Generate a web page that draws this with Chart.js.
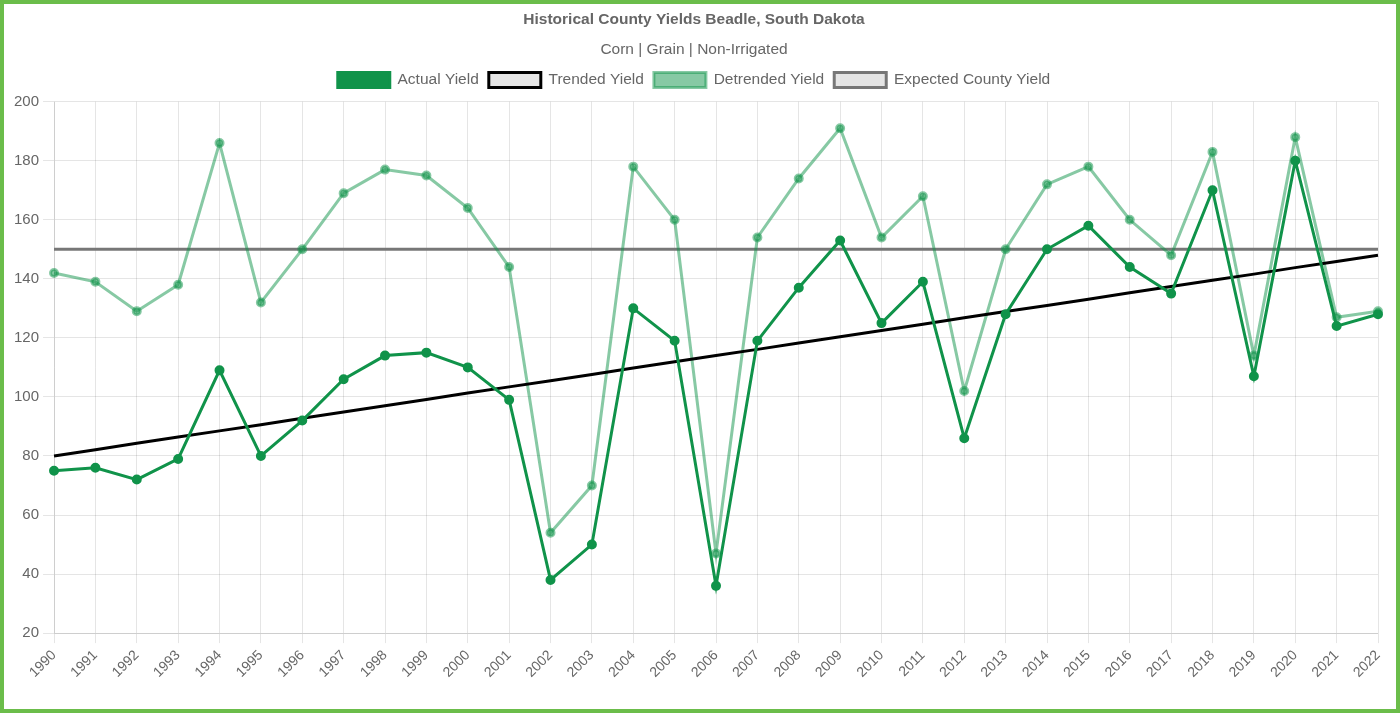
<!DOCTYPE html>
<html>
<head>
<meta charset="utf-8">
<title>Historical County Yields Beadle, South Dakota</title>
<script src="https://cdn.jsdelivr.net/npm/chart.js@4/dist/chart.umd.min.js"></script>
<style>
    html, body { margin: 0; padding: 0; background: #fff; }
    #frame {
        width: 1400px;
        height: 713px;
        box-sizing: border-box;
        border: 4px solid #6bbd4a;
        position: relative;
    }
    #chartYields { display: block; }
</style>
</head>
<body>
<div id="frame">
    <canvas id="chartYields" width="1392" height="705"></canvas>
</div>
<script>
// Anos
const years = ['1990', '1991', '1992', '1993', '1994', '1995', '1996', '1997', '1998', '1999',
    '2000', '2001', '2002', '2003', '2004', '2005', '2006', '2007', '2008', '2009',
    '2010', '2011', '2012', '2013', '2014', '2015', '2016', '2017', '2018', '2019',
    '2020', '2021', '2022'];

const actualYield = [75, 76, 72, 79, 109, 80, 92, 106, 114, 115,
    110, 99, 38, 50, 130, 119, 36, 119, 137, 153,
    125, 139, 86, 128, 150, 158, 144, 135, 170, 107,
    180, 124, 128];

const trendedYield = [80.0, 82.1, 84.3, 86.4, 88.5, 90.6, 92.8, 94.9, 97.0, 99.1,
    101.3, 103.4, 105.5, 107.6, 109.8, 111.9, 114.0, 116.1, 118.3, 120.4,
    122.5, 124.6, 126.8, 128.9, 131.0, 133.1, 135.3, 137.4, 139.5, 141.6,
    143.8, 145.9, 148.0];

const detrendedYield = [142, 139, 129, 138, 186, 132, 150, 169, 177, 175,
    164, 144, 54, 70, 178, 160, 47, 154, 174, 191,
    154, 168, 102, 150, 172, 178, 160, 148, 183, 114,
    188, 127, 129];

const expectedCountyYield = [150, 150, 150, 150, 150, 150, 150, 150, 150, 150,
    150, 150, 150, 150, 150, 150, 150, 150, 150, 150,
    150, 150, 150, 150, 150, 150, 150, 150, 150, 150,
    150, 150, 150];

const yTicks = [20, 40, 60, 80, 100, 120, 140, 160, 180, 200];

Chart.defaults.font.family = 'Arial, "Liberation Sans", Helvetica, sans-serif';
Chart.defaults.color = '#666';

// espaço extra abaixo da legenda
const legendMargin = {
    id: 'legendMargin',
    beforeInit(chart) {
        const fit = chart.legend.fit;
        chart.legend.fit = function () {
            fit.bind(chart.legend)();
            this.height += 4;
        };
    }
};

const ctx = document.getElementById('chartYields').getContext('2d');
new Chart(ctx, {
    type: 'line',
    data: {
        labels: years,
        datasets: [
            {
                label: 'Actual Yield',
                data: actualYield,
                borderColor: '#10934a',
                backgroundColor: '#10934a',
                borderWidth: 3,
                pointRadius: 3.5,
                pointHoverRadius: 4,
                tension: 0,
                fill: false,
                order: 1
            },
            {
                label: 'Trended Yield',
                data: trendedYield,
                borderColor: '#000',
                backgroundColor: 'rgba(0,0,0,0.1)',
                borderWidth: 3,
                pointRadius: 0,
                tension: 0,
                fill: false,
                order: 2
            },
            {
                label: 'Detrended Yield',
                data: detrendedYield,
                borderColor: 'rgba(16,147,74,0.5)',
                backgroundColor: 'rgba(16,147,74,0.5)',
                borderWidth: 3,
                pointRadius: 3.5,
                pointHoverRadius: 4,
                tension: 0,
                fill: false,
                order: 3
            },
            {
                label: 'Expected County Yield',
                data: expectedCountyYield,
                borderColor: '#777',
                backgroundColor: 'rgba(0,0,0,0.1)',
                borderWidth: 3,
                pointRadius: 0,
                tension: 0,
                fill: false,
                order: 4
            }
        ]
    },
    options: {
        responsive: false,
        animation: false,
        layout: { padding: { left: 6, right: 18, top: 0, bottom: 24 } },
        plugins: {
            title: {
                display: true,
                text: 'Historical County Yields Beadle, South Dakota',
                font: { size: 15.5, weight: 'bold' },
                padding: { top: 6, bottom: 8 }
            },
            subtitle: {
                display: true,
                text: 'Corn | Grain | Non-Irrigated',
                font: { size: 15.5 },
                padding: { top: 4, bottom: 3 }
            },
            legend: {
                position: 'top',
                labels: {
                    boxWidth: 52,
                    boxHeight: 15,
                    font: { size: 15.5 },
                    padding: 10
                }
            },
            tooltip: { enabled: true }
        },
        scales: {
            x: {
                grid: { color: 'rgba(0,0,0,0.1)', tickLength: 10 },
                ticks: {
                    font: { size: 14 },
                    maxRotation: 45,
                    minRotation: 45,
                    autoSkip: false,
                    padding: 4
                }
            },
            y: {
                min: 20,
                max: 200,
                grid: { color: 'rgba(0,0,0,0.1)', tickLength: 11 },
                afterBuildTicks: function (axis) {
                    axis.ticks = yTicks.map(v => ({ value: v }));
                },
                ticks: {
                    font: { size: 15 },
                    padding: 4
                }
            }
        }
    },
    plugins: [legendMargin]
});
</script>
</body>
</html>
